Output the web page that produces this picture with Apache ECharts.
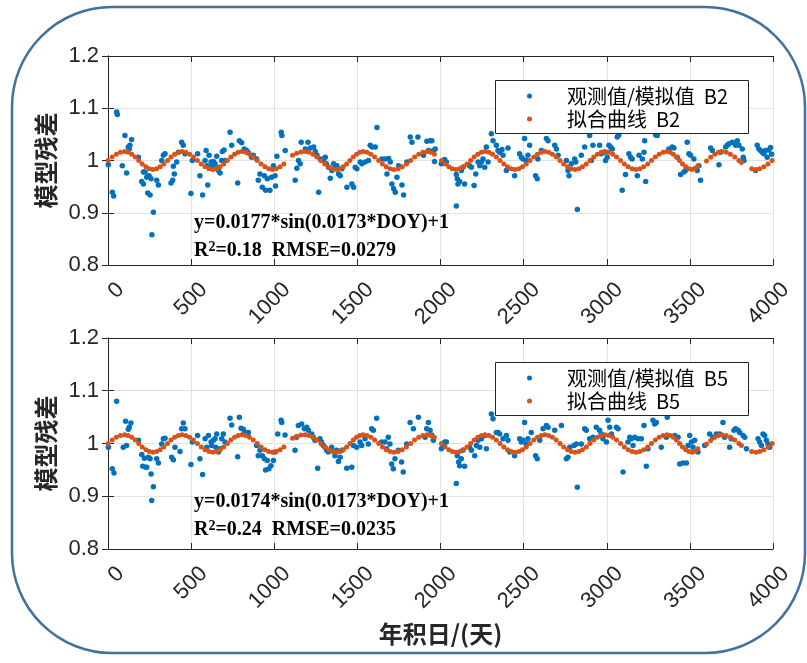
<!DOCTYPE html>
<html style="height: 100%">
  <head>
    <meta charset="utf-8" />
  </head>
  <body style="height: 100%; margin: 0; background: #fff">
    <div id="container" style="width: 807px; height: 663px"></div>
    <script type="text/javascript" src="https://cdn.jsdelivr.net/npm/echarts@6/dist/echarts.min.js"></script>
    <script type="text/javascript">
      var dom = document.getElementById('container');
      var myChart = echarts.init(dom);
      var option;

      // 刻度
      var xTicks = [0, 500, 1000, 1500, 2000, 2500, 3000, 3500, 4000];
      var yTicks = [0.8, 0.9, 1, 1.1, 1.2];

      // 观测值/模拟值 [年积日, 值]
      var obsB2 = [
        [2,0.992],[26,0.939],[34,0.932],[52,1.093],[56,1.088],[86,0.990],[102,1.048],[112,0.976],[122,1.026],[128,1.022],[132,1.029],[142,1.040],[183,1.006],[203,0.960],[213,0.955],[213,0.978],[223,0.978],[233,0.968],[239,0.938],[247,0.971],[253,0.934],[259,0.965],[264,0.858],[273,0.901],[293,0.962],[303,0.953],[323,1.000],[333,1.010],[343,1.013],[379,0.957],[389,0.962],[393,0.989],[399,0.974],[413,0.997],[423,1.016],[443,1.035],[453,1.029],[463,1.013],[499,0.937],[507,1.000],[539,1.013],[553,0.971],[569,0.934],[584,1.000],[590,1.019],[594,0.990],[600,0.953],[608,1.010],[620,0.997],[624,0.990],[634,0.998],[644,0.994],[648,0.987],[654,1.008],[664,0.981],[674,0.976],[684,1.000],[688,1.017],[698,1.020],[704,1.000],[734,1.054],[744,1.029],[780,0.957],[790,1.038],[804,1.034],[820,1.022],[834,1.019],[844,1.015],[864,1.006],[874,1.010],[894,1.003],[904,0.962],[914,0.974],[928,0.949],[940,0.971],[948,0.943],[958,0.965],[974,0.943],[984,0.968],[995,0.990],[1005,0.971],[1008,0.951],[1016,1.008],
        [1042,1.054],[1046,1.048],[1066,1.019],[1126,0.962],[1136,0.985],[1146,1.000],[1156,0.994],[1162,1.035],[1187,1.022],[1203,1.035],[1217,1.024],[1237,1.026],[1247,1.017],[1257,1.010],[1267,0.939],[1277,1.003],[1287,1.000],[1297,1.003],[1307,1.006],[1313,0.994],[1327,0.987],[1337,0.966],[1347,0.981],[1357,0.994],[1367,0.987],[1377,0.990],[1387,0.974],[1397,0.971],[1407,0.984],[1437,0.949],[1467,0.955],[1477,0.949],[1487,0.987],[1497,0.984],[1517,0.997],[1527,0.994],[1547,0.997],[1567,1.000],[1577,1.029],[1588,1.026],[1608,1.026],[1618,1.063],[1648,1.003],[1668,1.003],[1678,0.974],[1688,1.004],[1698,0.997],[1708,0.955],[1718,0.946],[1728,0.939],[1738,0.968],[1748,0.990],[1768,0.953],[1778,0.934],[1798,0.997],[1818,1.045],[1828,1.035],[1864,1.045],[1898,1.010],[1918,1.037],[1928,1.019],[1938,1.038],[1948,1.038],[1958,1.019],[1964,0.998],[1968,1.022],
        [2005,0.994],[2015,1.000],[2025,1.002],[2035,0.997],[2095,0.973],[2095,0.913],[2101,0.965],[2105,0.955],[2115,0.960],[2125,0.981],[2135,0.987],[2145,0.955],[2175,0.990],[2186,0.987],[2202,0.952],[2212,0.974],[2226,0.997],[2236,0.990],[2246,0.997],[2256,1.003],[2266,0.987],[2276,1.026],[2286,0.997],[2306,1.051],[2316,1.038],[2336,1.029],[2346,1.019],[2356,1.016],[2370,1.021],[2376,1.010],[2396,0.981],[2406,1.024],[2446,0.971],[2476,1.013],[2486,1.006],[2496,1.003],[2506,1.042],[2516,1.000],[2526,1.010],[2536,1.029],[2572,0.971],[2582,0.965],[2586,1.003],[2607,1.019],[2637,1.042],[2647,1.038],[2687,1.029],[2697,1.022],[2707,1.010],[2757,1.000],[2767,0.981],[2773,0.971],[2787,0.994],[2807,1.003],[2813,0.997],[2823,0.906],[2847,1.010],[2867,1.026],[2897,1.048],[2907,1.000],[2917,1.029],[2957,1.029],[2967,1.013],[2988,1.016],
        [2993,1.000],[3003,1.006],[3013,1.029],[3023,1.026],[3033,1.022],[3063,1.045],[3073,1.049],[3093,0.943],[3113,0.973],[3133,1.013],[3143,1.006],[3153,1.003],[3184,0.971],[3194,1.010],[3214,1.003],[3224,1.016],[3228,1.038],[3234,0.960],[3294,1.049],[3304,1.048],[3374,1.022],[3394,1.026],[3404,1.024],[3424,1.006],[3444,0.973],[3464,0.978],[3474,0.981],[3484,1.035],[3494,1.013],[3504,1.010],[3524,1.003],[3544,0.981],[3554,0.990],[3564,0.962],[3625,1.024],[3635,1.019],[3675,0.992],[3685,1.016],[3715,1.026],[3725,1.029],[3735,1.032],[3755,1.035],[3775,1.029],[3785,1.038],[3795,1.029],[3815,1.022],[3821,1.006],[3825,1.000],[3895,0.981],[3905,1.029],[3915,1.022],[3925,1.019],[3935,1.016],[3945,1.013],[3955,1.019],[3965,1.006],[3975,1.020],[3985,1.025],[3992,1.012]
      ];
      var obsB5 = [
        [2,0.993],[26,0.952],[36,0.944],[52,1.080],[92,0.993],[106,1.042],[112,0.996],[122,1.027],[128,1.031],[138,1.039],[183,1.006],[203,0.979],[209,0.957],[219,0.972],[227,0.955],[233,0.955],[243,0.974],[253,0.971],[259,0.942],[263,0.892],[273,0.918],[293,0.971],[303,0.963],[323,0.999],[333,1.009],[343,1.010],[383,0.974],[393,0.969],[403,0.993],[433,0.985],[443,1.028],[453,1.039],[463,1.028],[499,0.960],[507,1.003],[539,1.015],[553,0.971],[569,0.941],[584,1.009],[594,0.993],[604,1.015],[620,1.003],[624,0.996],[634,1.006],[644,1.009],[648,0.993],[654,1.018],[664,0.984],[674,0.990],[684,1.009],[694,1.018],[704,1.003],[734,1.048],[744,1.035],[780,0.975],[790,1.050],[800,1.029],[814,1.027],[824,1.021],[844,1.021],[894,0.996],[904,0.977],[914,0.987],[928,0.977],[940,0.971],[948,0.950],[958,0.968],[968,0.952],[980,0.958],[995,0.968],[1005,0.984],
        [1021,1.018],[1041,1.044],[1045,1.040],[1065,1.016],[1125,0.987],[1135,1.012],[1145,1.034],[1165,1.037],[1181,1.028],[1195,1.031],[1205,1.025],[1225,1.018],[1235,1.012],[1245,1.006],[1261,0.953],[1275,1.009],[1285,1.003],[1295,0.996],[1305,0.993],[1315,0.987],[1325,0.984],[1345,0.993],[1365,0.977],[1375,0.987],[1386,0.966],[1396,0.974],[1406,0.987],[1436,0.953],[1466,0.955],[1476,0.996],[1496,0.993],[1516,1.003],[1526,0.996],[1546,1.009],[1566,0.999],[1586,1.028],[1596,1.025],[1616,1.048],[1646,1.003],[1666,1.003],[1676,0.990],[1686,1.012],[1696,0.999],[1706,0.961],[1716,0.952],[1726,0.971],[1746,0.987],[1766,0.965],[1776,0.946],[1797,0.999],[1817,1.040],[1837,1.028],[1867,1.050],[1907,1.012],[1917,1.028],[1927,1.040],[1937,1.025],[1947,1.016],[1957,1.006],
        [2005,0.990],[2015,0.999],[2025,1.003],[2035,1.003],[2095,0.924],[2101,0.977],[2109,0.965],[2115,0.958],[2125,0.971],[2135,0.987],[2145,0.957],[2175,0.993],[2186,0.987],[2206,0.977],[2216,0.996],[2226,1.006],[2236,0.993],[2246,1.009],[2266,1.015],[2276,0.990],[2306,1.056],[2316,1.047],[2336,1.021],[2346,1.021],[2356,1.018],[2376,1.009],[2396,1.015],[2406,1.006],[2416,0.984],[2446,0.977],[2476,1.009],[2486,1.003],[2496,1.006],[2506,1.040],[2516,0.999],[2526,1.009],[2546,1.021],[2572,0.977],[2582,0.971],[2597,1.006],[2617,1.028],[2637,1.034],[2647,1.031],[2687,1.025],[2727,1.034],[2757,0.971],[2767,0.974],[2777,0.993],[2803,0.996],[2817,0.999],[2823,0.917],[2847,0.999],[2867,1.028],[2877,1.025],[2897,1.009],[2917,1.012],[2937,1.031],[2957,1.025],[2967,1.018],[2977,1.009],
        [2998,1.003],[3008,1.044],[3018,1.031],[3028,1.018],[3058,1.031],[3068,1.028],[3098,0.946],[3128,1.003],[3138,1.012],[3148,1.009],[3158,0.996],[3168,1.012],[3188,1.009],[3208,1.009],[3224,1.034],[3238,0.957],[3248,0.990],[3278,1.044],[3288,1.037],[3298,1.040],[3328,0.993],[3358,1.012],[3364,1.050],[3409,1.015],[3429,1.012],[3439,0.961],[3459,0.963],[3479,0.963],[3489,0.996],[3499,1.015],[3509,1.003],[3519,0.993],[3529,1.006],[3549,0.984],[3589,0.996],[3619,1.018],[3639,1.012],[3659,1.018],[3679,1.018],[3699,1.040],[3709,1.012],[3739,0.993],[3749,1.009],[3765,1.025],[3775,1.028],[3790,1.025],[3800,1.021],[3820,1.015],[3830,1.012],[3840,0.990],[3910,1.009],[3920,1.003],[3930,0.996],[3940,1.018],[3950,1.015],[3960,1.006],[3970,0.999],[3980,0.993]
      ];

      // 拟合曲线的年积日和值 (两个波段共用同一组年积日)
      var fitDays = [
        0, 25, 50, 75,
        100, 121, 143, 164, 185, 206, 228, 249,
        270, 292, 314, 336, 358, 379, 401, 423,
        445, 468, 491, 514, 538, 561, 584, 607,
        630, 652, 674, 696, 718, 739, 761, 783,
        805, 828, 851, 874, 898, 921, 944, 967,
        990, 1012, 1035, 1058, 1110, 1135, 1160,
        1185, 1209, 1233, 1256, 1280, 1304, 1328, 1351,
        1375, 1395, 1415, 1435, 1455, 1475, 1495, 1515,
        1535, 1558, 1581, 1604, 1628, 1651, 1674, 1697,
        1720, 1745, 1770, 1795, 1820, 1844, 1869, 1894,
        1919, 1941, 1963, 2006, 2028, 2050, 2071,
        2093, 2115, 2137, 2159, 2181, 2202, 2224, 2246,
        2268, 2291, 2313, 2336, 2358, 2381, 2403, 2426,
        2448, 2471, 2493, 2516, 2538, 2561, 2583, 2606,
        2628, 2651, 2673, 2696, 2719, 2741, 2764, 2786,
        2809, 2832, 2854, 2877, 2899, 2922, 2944, 2967,
        2989, 3012, 3036, 3059, 3083, 3106, 3129, 3153,
        3176, 3199, 3222, 3246, 3269, 3292, 3315, 3339,
        3362, 3381, 3400, 3419, 3438, 3456, 3475, 3494,
        3513, 3530, 3548, 3600, 3625, 3650, 3672,
        3693, 3719, 3744, 3770, 3795, 3810, 3872,
        3898, 3920, 3945, 3970, 3995
      ];
      var fitB2 = [
        1.000, 1.0065, 1.012, 1.0157,
        1.017, 1.0157, 1.012, 1.0065, 1.000, 0.9935, 0.988, 0.9843,
        0.983, 0.9843, 0.988, 0.9935, 1.000, 1.0065, 1.012, 1.0157,
        1.017, 1.0157, 1.012, 1.0065, 1.000, 0.9935, 0.988, 0.9843,
        0.983, 0.9843, 0.988, 0.9935, 1.000, 1.0065, 1.012, 1.0157,
        1.017, 1.0157, 1.012, 1.0065, 1.000, 0.9935, 0.988, 0.9843,
        0.983, 0.9843, 0.988, 0.9935, 1.010, 1.014, 1.0165,
        1.017, 1.0157, 1.012, 1.0065, 1.000, 0.9935, 0.988, 0.9843,
        0.983, 0.9843, 0.988, 0.9935, 1.000, 1.0065, 1.012, 1.0157,
        1.017, 1.0157, 1.012, 1.0065, 1.000, 0.9935, 0.988, 0.9843,
        0.983, 0.9843, 0.988, 0.9935, 1.000, 1.0065, 1.012, 1.0157,
        1.017, 1.0157, 1.012, 1.000, 0.9935, 0.988, 0.9843,
        0.983, 0.9843, 0.988, 0.9935, 1.000, 1.0065, 1.012, 1.0157,
        1.017, 1.0157, 1.012, 1.0065, 1.000, 0.9935, 0.988, 0.9843,
        0.983, 0.9843, 0.988, 0.9935, 1.000, 1.0065, 1.012, 1.0157,
        1.017, 1.0157, 1.012, 1.0065, 1.000, 0.9935, 0.988, 0.9843,
        0.983, 0.9843, 0.988, 0.9935, 1.000, 1.0065, 1.012, 1.0157,
        1.017, 1.0157, 1.012, 1.0065, 1.000, 0.9935, 0.988, 0.9843,
        0.983, 0.9843, 0.988, 0.9935, 1.000, 1.0065, 1.012, 1.0157,
        1.017, 1.0157, 1.012, 1.0065, 1.000, 0.9935, 0.988, 0.9843,
        0.983, 0.985, 0.990, 0.999, 1.006, 1.012, 1.0157,
        1.017, 1.0157, 1.012, 1.0065, 1.000, 0.996, 0.9843,
        0.983, 0.9843, 0.988, 0.9935, 1.000
      ];
      var fitB5 = [
        1.000, 1.0064, 1.0118, 1.0154,
        1.0167, 1.0154, 1.0118, 1.0064, 1.000, 0.9936, 0.9882, 0.9846,
        0.9833, 0.9846, 0.9882, 0.9936, 1.000, 1.0064, 1.0118, 1.0154,
        1.0167, 1.0154, 1.0118, 1.0064, 1.000, 0.9936, 0.9882, 0.9846,
        0.9833, 0.9846, 0.9882, 0.9936, 1.000, 1.0064, 1.0118, 1.0154,
        1.0167, 1.0154, 1.0118, 1.0064, 1.000, 0.9936, 0.9882, 0.9846,
        0.9833, 0.9846, 0.9882, 0.9936, 1.0098, 1.0138, 1.0162,
        1.0167, 1.0154, 1.0118, 1.0064, 1.000, 0.9936, 0.9882, 0.9846,
        0.9833, 0.9846, 0.9882, 0.9936, 1.000, 1.0064, 1.0118, 1.0154,
        1.0167, 1.0154, 1.0118, 1.0064, 1.000, 0.9936, 0.9882, 0.9846,
        0.9833, 0.9846, 0.9882, 0.9936, 1.000, 1.0064, 1.0118, 1.0154,
        1.0167, 1.0154, 1.0118, 1.000, 0.9936, 0.9882, 0.9846,
        0.9833, 0.9846, 0.9882, 0.9936, 1.000, 1.0064, 1.0118, 1.0154,
        1.0167, 1.0154, 1.0118, 1.0064, 1.000, 0.9936, 0.9882, 0.9846,
        0.9833, 0.9846, 0.9882, 0.9936, 1.000, 1.0064, 1.0118, 1.0154,
        1.0167, 1.0154, 1.0118, 1.0064, 1.000, 0.9936, 0.9882, 0.9846,
        0.9833, 0.9846, 0.9882, 0.9936, 1.000, 1.0064, 1.0118, 1.0154,
        1.0167, 1.0154, 1.0118, 1.0064, 1.000, 0.9936, 0.9882, 0.9846,
        0.9833, 0.9846, 0.9882, 0.9936, 1.000, 1.0064, 1.0118, 1.0154,
        1.0167, 1.0154, 1.0118, 1.0064, 1.000, 0.9936, 0.9882, 0.9846,
        0.9833, 0.9853, 0.9902, 0.999, 1.0059, 1.0118, 1.0154,
        1.0167, 1.0154, 1.0118, 1.0064, 1.000, 0.9961, 0.9846,
        0.9833, 0.9846, 0.9882, 0.9936, 1.000
      ];

      var names = ['观测值/模拟值  B2', '拟合曲线  B2', '观测值/模拟值  B5', '拟合曲线  B5'];
      var fitText = [
        ['y=0.0177*sin(0.0173*DOY)+1', '0.18', '0.0279'],
        ['y=0.0174*sin(0.0173*DOY)+1', '0.24', '0.0235']
      ];

      var axisColor = '#262626';
      var gridTop = [56, 338];
      var gridHeight = [209, 211];
      var legendTop = [80, 362];

      function pairs(days, vals) {
        return days.map(function (d, i) { return [d, vals[i]]; });
      }

      function bottomX(g, name) {
        return {
          type: 'value', gridIndex: g, min: xTicks[0], max: xTicks[xTicks.length - 1], interval: 500,
          name: name, nameLocation: 'middle', nameGap: 73,
          nameTextStyle: { fontFamily: 'Noto Sans CJK SC', fontSize: 24, fontWeight: 'bold', color: axisColor },
          axisLine: { show: true, lineStyle: { color: axisColor } },
          axisTick: { show: true, inside: true, length: 6, lineStyle: { color: axisColor } },
          axisLabel: {
            rotate: 45, margin: 34, padding: [0, -18, 0, 0],
            fontFamily: 'Liberation Sans', fontSize: 22, color: axisColor,
            showMinLabel: true, showMaxLabel: true,
            formatter: function (v) { return String(v); }
          },
          splitLine: { show: true, lineStyle: { color: '#e2e2e2' } }
        };
      }
      function topX(g) {
        return {
          type: 'value', gridIndex: g, position: 'top', min: xTicks[0], max: xTicks[xTicks.length - 1], interval: 500,
          axisLine: { show: true, lineStyle: { color: axisColor } },
          axisTick: { show: true, inside: true, length: 6, lineStyle: { color: axisColor } },
          axisLabel: { show: false },
          splitLine: { show: false }
        };
      }
      function leftY(g) {
        return {
          type: 'value', gridIndex: g, min: yTicks[0], max: yTicks[yTicks.length - 1], interval: 0.1,
          name: '模型残差', nameLocation: 'middle', nameGap: 48,
          nameTextStyle: { fontFamily: 'Noto Sans CJK SC', fontSize: 24, fontWeight: 'bold', color: axisColor },
          axisLine: { show: true, lineStyle: { color: axisColor } },
          axisTick: { show: true, inside: true, length: 6, lineStyle: { color: axisColor } },
          axisLabel: {
            margin: 9, fontFamily: 'Liberation Sans', fontSize: 22, color: axisColor,
            formatter: function (v) { return String(Math.round(v * 10) / 10); }
          },
          splitLine: { show: true, lineStyle: { color: '#e2e2e2' } }
        };
      }
      function rightY(g) {
        return {
          type: 'value', gridIndex: g, position: 'right', min: yTicks[0], max: yTicks[yTicks.length - 1], interval: 0.1,
          axisLine: { show: true, lineStyle: { color: axisColor } },
          axisTick: { show: true, inside: true, length: 6, lineStyle: { color: axisColor } },
          axisLabel: { show: false },
          splitLine: { show: false }
        };
      }
      // 图例本身不画边框, 边框用 graphic 矩形
      function legendFor(top, items) {
        return {
          orient: 'vertical', left: 527, top: top + 6, data: items,
          icon: 'circle', padding: 0, itemGap: 3, itemWidth: 5, itemHeight: 5,
          textStyle: { fontFamily: 'Noto Sans CJK SC', fontSize: 20, color: '#000', padding: [0, 0, 0, 30] }
        };
      }
      function legendBox(top) {
        return {
          type: 'rect', silent: true, z: 3,
          shape: { x: 495.5, y: top + 0.5, width: 253, height: 53 },
          style: { fill: '#fff', stroke: axisColor, lineWidth: 1 }
        };
      }
      function annot(x, y, text) {
        return {
          type: 'text', x: x, y: y, silent: true, z: 10,
          style: {
            text: text, fill: '#000', verticalAlign: 'middle',
            rich: {
              t: { fontFamily: 'Liberation Serif', fontWeight: 'bold', fontSize: 20 },
              s: { fontFamily: 'Liberation Serif', fontWeight: 'bold', fontSize: 14, verticalAlign: 'top', padding: [0, 0, 8, 0] }
            }
          }
        };
      }

      option = {
        backgroundColor: '#fff',
        animation: false,
        grid: [
          { left: 108, top: gridTop[0], width: 665, height: gridHeight[0], outerBoundsMode: 'none' },
          { left: 108, top: gridTop[1], width: 665, height: gridHeight[1], outerBoundsMode: 'none' }
        ],
        xAxis: [bottomX(0, ''), topX(0), bottomX(1, '年积日/(天)'), topX(1)],
        yAxis: [leftY(0), rightY(0), leftY(1), rightY(1)],
        legend: [legendFor(legendTop[0], [names[0], names[1]]), legendFor(legendTop[1], [names[2], names[3]])],
        series: [
          { name: names[0], type: 'scatter', xAxisIndex: 0, yAxisIndex: 0, symbolSize: 5.5,
            itemStyle: { color: '#0072BD', opacity: 1 }, data: obsB2 },
          { name: names[1], type: 'scatter', xAxisIndex: 0, yAxisIndex: 0, symbolSize: 5,
            itemStyle: { color: '#D95319', opacity: 1 }, data: pairs(fitDays, fitB2) },
          { name: names[2], type: 'scatter', xAxisIndex: 2, yAxisIndex: 2, symbolSize: 5.5,
            itemStyle: { color: '#0072BD', opacity: 1 }, data: obsB5 },
          { name: names[3], type: 'scatter', xAxisIndex: 2, yAxisIndex: 2, symbolSize: 5,
            itemStyle: { color: '#D95319', opacity: 1 }, data: pairs(fitDays, fitB5) }
        ],
        graphic: [
          { type: 'rect', silent: true, z: -10,
            shape: { x: 12, y: 7, width: 793, height: 646, r: 100 },
            style: { fill: 'none', stroke: '#41719c', lineWidth: 2.5 } },
          legendBox(legendTop[0]),
          legendBox(legendTop[1]),
          annot(194, 223, '{t|' + fitText[0][0] + '}'),
          annot(194, 251, '{t|R}{s|2}{t|=' + fitText[0][1] + '  RMSE=' + fitText[0][2] + '}'),
          annot(194, 502, '{t|' + fitText[1][0] + '}'),
          annot(194, 530, '{t|R}{s|2}{t|=' + fitText[1][1] + '  RMSE=' + fitText[1][2] + '}')
        ]
      };

      myChart.setOption(option);
    </script>
  </body>
</html>
